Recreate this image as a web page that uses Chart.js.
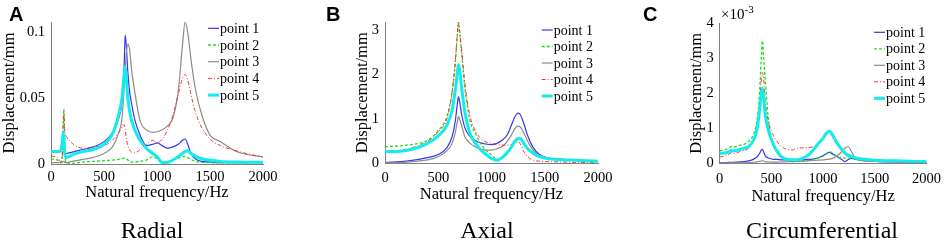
<!DOCTYPE html>
<html>
<head>
<meta charset="utf-8">
<script src="https://cdn.jsdelivr.net/npm/chart.js@4"></script>
<style>
  body { margin: 0; background: #fff; }
  #wrap { position: relative; width: 948px; height: 242px; overflow: hidden; font-family: "Liberation Serif", "Times New Roman", serif; }
  canvas { position: absolute; top: 0; }
  .tag { position: absolute; top: 4px; font: bold 20px/20px "Liberation Sans", Arial, sans-serif; }
  .cap { position: absolute; top: 218px; font-size: 24px; line-height: 24px; transform: translateX(-50%); white-space: nowrap; }
  .expo { position: absolute; left: 721px; top: 7px; font-size: 15px; line-height: 15px; white-space: nowrap; }
  .expo span { font-size: 11px; position: relative; top: -6px; }
</style>
</head>
<body>
<div id="wrap">
  <canvas id="radial" width="316" height="242" style="left:0px"></canvas>
  <canvas id="axial" width="316" height="242" style="left:316px"></canvas>
  <canvas id="circ" width="316" height="242" style="left:632px"></canvas>
  <div class="tag" style="left:9px">A</div>
  <div class="tag" style="left:326px">B</div>
  <div class="tag" style="left:643px">C</div>
  <div class="expo">&times;10<span>-3</span></div>
  <div class="cap" style="left:152px">Radial</div>
  <div class="cap" style="left:487px">Axial</div>
  <div class="cap" style="left:822px">Circumferential</div>
</div>
<script>
// series names and line styles
const pointNames = ["point 1", "point 2", "point 3", "point 4", "point 5"];
const lineColors = ["#3636f0", "#22dd22", "#8c8c8c", "#ff3333", "#12ecec"];
const lineWidths = [1.2, 1.3, 1.2, 1, 3];
const lineDashes = [[], [3, 2], [], [4, 2, 1, 2], []];

const xTicks = [0, 500, 1000, 1500, 2000];

// panel A - radial (mm)
const radialFreq = [0, 60, 90, 105, 115, 122, 130, 145, 200, 300, 400, 500, 580, 640, 670, 690, 700, 710, 725, 740, 760, 790, 840, 900, 960, 1000, 1050, 1100, 1150, 1200, 1240, 1265, 1290, 1320, 1360, 1420, 1500, 1600, 1750, 1900, 2000];
const radialP1 = [0.009, 0.009, 0.010, 0.012, 0.013, 0.011, 0.008, 0.008, 0.009, 0.011, 0.013, 0.017, 0.024, 0.035, 0.048, 0.075, 0.098, 0.09, 0.07, 0.056, 0.046, 0.034, 0.022, 0.014, 0.015, 0.016, 0.014, 0.012, 0.013, 0.015, 0.018, 0.019, 0.015, 0.008, 0.004, 0.002, 0.0015, 0.001, 0.001, 0.001, 0.001];
const radialP2 = [0.004, 0.003, 0.001, 0.005, 0.03, 0.042, 0.01, 0.001, 0.0005, 0.0015, 0.002, 0.0025, 0.003, 0.0035, 0.004, 0.0045, 0.0045, 0.004, 0.003, 0.002, 0.0015, 0.0015, 0.002, 0.003, 0.0055, 0.004, 0.0018, 0.002, 0.003, 0.0045, 0.0055, 0.0058, 0.005, 0.0035, 0.002, 0.0012, 0.001, 0.0008, 0.0008, 0.0008, 0.0008];
const radialP3 = [0.001, 0.001, 0.001, 0.001, 0.002, 0.002, 0.001, 0.001, 0.002, 0.0035, 0.005, 0.008, 0.013, 0.024, 0.035, 0.058, 0.072, 0.084, 0.091, 0.088, 0.072, 0.055, 0.033, 0.026, 0.024, 0.0245, 0.026, 0.029, 0.035, 0.055, 0.09, 0.108, 0.1, 0.08, 0.058, 0.038, 0.022, 0.017, 0.0095, 0.0065, 0.0055];
const radialP4 = [0.006, 0.005, 0.002, 0.004, 0.03, 0.038, 0.025, 0.021, 0.0157, 0.012, 0.013, 0.014, 0.018, 0.024, 0.028, 0.030, 0.026, 0.02, 0.014, 0.011, 0.009, 0.0085, 0.011, 0.015, 0.018, 0.016, 0.019, 0.026, 0.037, 0.053, 0.065, 0.068, 0.064, 0.053, 0.04, 0.028, 0.019, 0.014, 0.01, 0.007, 0.0055];
const radialP5 = [0.0095, 0.0095, 0.010, 0.016, 0.024, 0.02, 0.008, 0.005, 0.007, 0.0094, 0.011, 0.015, 0.023, 0.038, 0.05, 0.068, 0.074, 0.065, 0.05, 0.041, 0.033, 0.026, 0.018, 0.012, 0.008, 0.0056, 0.001, 0.0012, 0.003, 0.0056, 0.008, 0.0095, 0.010, 0.008, 0.006, 0.004, 0.003, 0.002, 0.0015, 0.0013, 0.0013];

// panel B - axial (mm)
const axialFreq = [0, 200, 400, 500, 580, 630, 660, 680, 690, 700, 720, 750, 800, 860, 900, 960, 1000, 1050, 1100, 1150, 1190, 1220, 1250, 1270, 1300, 1340, 1390, 1450, 1520, 1600, 1740, 1900, 2000];
const axialP1 = [0.02, 0.05, 0.13, 0.2, 0.35, 0.6, 0.95, 1.35, 1.5, 1.4, 1.1, 0.8, 0.6, 0.5, 0.46, 0.43, 0.42, 0.45, 0.52, 0.65, 0.88, 1.05, 1.13, 1.1, 0.92, 0.62, 0.36, 0.2, 0.13, 0.1, 0.08, 0.06, 0.05];
const axialP2 = [0.375, 0.41, 0.52, 0.74, 1.05, 1.6, 2.25, 2.9, 3.15, 2.95, 2.45, 1.7, 0.95, 0.62, 0.44, 0.27, 0.19, 0.09, 0.12, 0.22, 0.36, 0.48, 0.55, 0.56, 0.47, 0.34, 0.23, 0.15, 0.11, 0.09, 0.075, 0.06, 0.055];
const axialP3 = [0.01, 0.03, 0.08, 0.15, 0.28, 0.45, 0.7, 0.95, 1.05, 1.0, 0.85, 0.6, 0.45, 0.36, 0.32, 0.3, 0.3, 0.33, 0.38, 0.5, 0.65, 0.78, 0.84, 0.82, 0.7, 0.5, 0.3, 0.18, 0.12, 0.1, 0.08, 0.06, 0.05];
const axialP4 = [0.27, 0.32, 0.5, 0.71, 1.0, 1.6, 2.3, 2.95, 3.19, 3.0, 2.55, 1.8, 1.05, 0.68, 0.56, 0.47, 0.45, 0.42, 0.41, 0.41, 0.43, 0.47, 0.49, 0.44, 0.28, 0.15, 0.075, 0.05, 0.04, 0.035, 0.025, 0.02, 0.015];
const axialP5 = [0.26, 0.29, 0.45, 0.62, 0.85, 1.2, 1.65, 2.05, 2.22, 2.1, 1.7, 1.15, 0.66, 0.42, 0.3, 0.18, 0.11, 0.07, 0.13, 0.25, 0.38, 0.5, 0.56, 0.56, 0.46, 0.33, 0.23, 0.15, 0.11, 0.09, 0.075, 0.06, 0.05];

// panel C - circumferential (x10^-3 mm)
const circFreq = [0, 60, 100, 115, 130, 200, 280, 330, 360, 385, 400, 413, 425, 440, 470, 510, 560, 600, 650, 700, 750, 800, 850, 900, 950, 1000, 1030, 1060, 1090, 1130, 1180, 1210, 1240, 1270, 1310, 1360, 1450, 1550, 1700, 1850, 2000];
const circP1 = [0.02, 0.02, 0.03, 0.03, 0.03, 0.04, 0.07, 0.12, 0.18, 0.28, 0.36, 0.4, 0.33, 0.22, 0.15, 0.12, 0.11, 0.1, 0.1, 0.1, 0.1, 0.1, 0.11, 0.12, 0.15, 0.22, 0.27, 0.31, 0.27, 0.2, 0.11, 0.05, 0.1, 0.14, 0.12, 0.09, 0.06, 0.05, 0.04, 0.03, 0.03];
const circP2 = [0.36, 0.4, 0.45, 0.48, 0.47, 0.52, 0.62, 0.85, 1.2, 2.0, 2.9, 3.5, 3.0, 2.4, 1.3, 0.6, 0.3, 0.18, 0.1, 0.05, 0.05, 0.06, 0.08, 0.11, 0.15, 0.2, 0.27, 0.33, 0.3, 0.2, 0.16, 0.15, 0.15, 0.15, 0.13, 0.11, 0.09, 0.08, 0.07, 0.06, 0.05];
const circP3 = [0.01, 0.01, 0.01, 0.012, 0.012, 0.015, 0.02, 0.03, 0.04, 0.055, 0.065, 0.07, 0.065, 0.05, 0.04, 0.035, 0.035, 0.04, 0.045, 0.05, 0.055, 0.06, 0.07, 0.08, 0.09, 0.1, 0.11, 0.12, 0.14, 0.2, 0.33, 0.43, 0.48, 0.36, 0.15, 0.08, 0.06, 0.05, 0.04, 0.035, 0.03];
const circP4 = [0.18, 0.22, 0.28, 0.3, 0.28, 0.34, 0.43, 0.65, 0.95, 1.6, 2.3, 2.6, 2.4, 1.8, 1.2, 0.85, 0.6, 0.47, 0.4, 0.38, 0.43, 0.44, 0.45, 0.47, 0.55, 0.68, 0.8, 0.88, 0.75, 0.55, 0.35, 0.25, 0.2, 0.17, 0.14, 0.12, 0.1, 0.08, 0.06, 0.05, 0.04];
const circP5 = [0.28, 0.3, 0.34, 0.37, 0.35, 0.4, 0.48, 0.68, 0.95, 1.5, 1.95, 2.15, 1.9, 1.4, 0.95, 0.6, 0.32, 0.18, 0.12, 0.1, 0.1, 0.14, 0.22, 0.36, 0.55, 0.72, 0.85, 0.92, 0.82, 0.6, 0.4, 0.3, 0.24, 0.2, 0.16, 0.13, 0.1, 0.08, 0.07, 0.06, 0.05];

// small legend drawn inside the plot, MATLAB style
const legendBox = {
  id: "legendBox",
  afterDatasetsDraw(chart, args, opts) {
    const ctx = chart.ctx;
    ctx.save();
    chart.data.datasets.forEach((ds, i) => {
      const y = opts.y + i * opts.gap;
      ctx.beginPath();
      ctx.strokeStyle = ds.borderColor;
      ctx.lineWidth = ds.borderWidth;
      ctx.setLineDash(ds.borderDash);
      ctx.moveTo(opts.x, y);
      ctx.lineTo(opts.x + 11, y);
      ctx.stroke();
      ctx.setLineDash([]);
      ctx.fillStyle = "#000";
      ctx.font = '14px "Liberation Serif"';
      ctx.textBaseline = "middle";
      ctx.fillText(ds.label, opts.x + 12, y + 1);
    });
    ctx.restore();
  },
};

const tickFont = { family: "Liberation Serif", size: 14.5 };
const titleFont = { family: "Liberation Serif", size: 16.5 };

// function to draw one panel, cfg holds the placement of the plot area
function drawPanel(id, freq, series, cfg) {
  const datasets = series.map((vals, i) => ({
    label: pointNames[i],
    data: freq.map((f, k) => ({ x: f, y: vals[k] })),
    borderColor: lineColors[i],
    borderWidth: lineWidths[i],
    borderDash: lineDashes[i],
    pointRadius: 0,
    cubicInterpolationMode: "monotone",
    fill: false,
    order: 5 - i,
  }));

  new Chart(document.getElementById(id), {
    type: "line",
    data: { datasets: datasets },
    options: {
      responsive: false,
      animation: false,
      layout: {
        padding: { left: cfg.padLeft, right: cfg.padRight, top: cfg.top, bottom: cfg.padBottom },
      },
      plugins: {
        legend: { display: false },
        tooltip: { enabled: false },
        legendBox: cfg.legend,
      },
      scales: {
        x: {
          type: "linear",
          min: 0,
          max: 2000,
          afterBuildTicks: (s) => { s.ticks = xTicks.map((v) => ({ value: v })); },
          ticks: { font: tickFont, color: "#000", padding: cfg.xTickPad, maxRotation: 0, callback: (v) => String(v) },
          grid: { display: true, drawOnChartArea: false, drawTicks: false },
          border: { color: "#808080", width: 1 },
          title: { display: true, text: "Natural frequency/Hz", font: titleFont, color: "#000", padding: { top: 0, bottom: 1 } },
          afterFit: (s) => { s.height = cfg.xAxisH; },
        },
        y: {
          type: "linear",
          min: 0,
          max: cfg.yMax,
          afterBuildTicks: (s) => { s.ticks = cfg.yTicks.map((v) => ({ value: v })); },
          ticks: { font: tickFont, color: "#000", padding: 6, callback: (v) => String(v) },
          grid: { display: true, drawOnChartArea: false, drawTicks: false },
          border: { color: "#808080", width: 1 },
          title: { display: true, text: "Displacement/mm", font: titleFont, color: "#000", padding: { top: 0, bottom: 0 } },
          afterFit: (s) => { s.width = cfg.yAxisW; },
        },
      },
    },
    plugins: [legendBox],
  });
}

drawPanel("radial", radialFreq, [radialP1, radialP2, radialP3, radialP4, radialP5], {
  padLeft: 0, yAxisW: 51, padRight: 53, top: 22, xAxisH: 40, padBottom: 38, xTickPad: 4,
  yMax: 0.108, yTicks: [0, 0.05, 0.1],
  legend: { x: 208, y: 28.3, gap: 16.7 },
});

drawPanel("axial", axialFreq, [axialP1, axialP2, axialP3, axialP4, axialP5], {
  padLeft: 37, yAxisW: 32, padRight: 34, top: 22, xAxisH: 42.6, padBottom: 36, xTickPad: 6,
  yMax: 3.18, yTicks: [0, 1, 2, 3],
  legend: { x: 225.7, y: 30, gap: 16.5 },
});

drawPanel("circ", circFreq, [circP1, circP2, circP3, circP4, circP5], {
  padLeft: 54.4, yAxisW: 33.3, padRight: 18.3, top: 23.3, xAxisH: 44.3, padBottom: 34.4, xTickPad: 7,
  yMax: 4, yTicks: [0, 1, 2, 3, 4],
  legend: { x: 242, y: 32.3, gap: 16.5 },
});
</script>
</body>
</html>
